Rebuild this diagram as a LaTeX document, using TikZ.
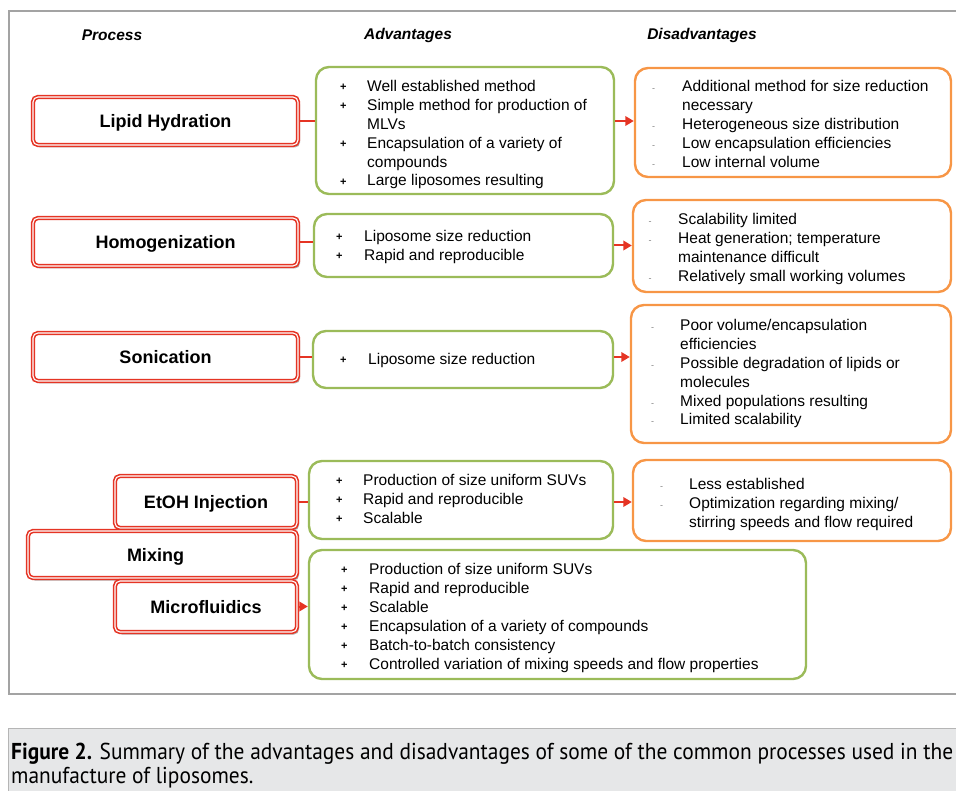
\documentclass[tikz,border=0pt]{standalone}
\usepackage{fontspec}
\usepackage{graphicx}
\setmainfont{Liberation Sans}
\newfontfamily\capfont{PT Sans}
\usetikzlibrary{shadows,arrows.meta}
\definecolor{procred}{HTML}{E53424}
\definecolor{advgreen}{HTML}{9BBB59}
\definecolor{disorange}{HTML}{F79646}
\definecolor{framegray}{HTML}{A3A3A3}
\definecolor{capfill}{HTML}{E6E7E8}
\definecolor{dashgray}{HTML}{7F7F7F}
\newlength\bw
\newcommand\pb{\makebox[\bw][l]{\raisebox{0.8pt}{\fontsize{11}{11}\selectfont\bfseries +}}}
\newcommand\mb{\makebox[\bw][l]{\fontsize{9}{9}\selectfont\color{dashgray}-}}
\newcommand\nb{\hspace*{\bw}}
\newcommand\boxnode[7]{\node[#2, minimum width={(#5-#3)*1pt}, minimum height={(#6-#4)*1pt}] (#1) at ({(#3+#5)/2},{(#4+#6)/2}) {#7};}
\tikzset{
  proc/.style={draw=procred, line width=1.6pt, double=white, double distance=1.1pt,
    rounded corners=5pt, fill=white,
    drop shadow={shadow xshift=2pt, shadow yshift=-2.5pt, opacity=0.5, fill=black!60},
    font=\fontsize{18}{20}\selectfont\bfseries, inner sep=0pt,
    text height=13pt, text depth=0pt},
  adv/.style={draw=advgreen, line width=2.4pt, rounded corners=13pt, inner sep=0pt},
  dis/.style={draw=disorange, line width=2.4pt, rounded corners=13pt, inner sep=0pt},
  lst/.style={anchor=base west, inner sep=0pt, font=\fontsize{15.5}{18.9}\selectfont},
  conn/.style={draw=procred, line width=2pt},
  arr/.style={conn, -{Triangle[length=8.5pt,width=9.5pt]}},
  hdr/.style={font=\fontsize{15.5}{18}\selectfont\bfseries\itshape, inner sep=0pt}
}
\begin{document}
\begin{tikzpicture}[x=1pt,y=-1pt]
\useasboundingbox (0,0) rectangle (956,791);
% frame and caption panel
\draw[framegray, line width=1.2pt] (9,11) rectangle (975,694);
\draw[draw=framegray!80, line width=1pt, fill=capfill] (8,728) rectangle (975,800);
\node[anchor=base west, inner sep=0pt, font=\capfont\fontsize{23}{24}\selectfont] (cap) at (11,759)
  {\resizebox{942pt}{\height}{\begin{tabular}[t]{@{}l@{}}\textbf{Figure 2.} Summary of the advantages and disadvantages of some of the common processes used in the\\ manufacture of liposomes.\end{tabular}}};
% headers
\node[hdr] (hproc) at (112,35) {Process};
\node[hdr] (hadv) at (408,35) {Advantages};
\node[hdr] (hdis) at (702,35) {Disadvantages};
% process boxes
\boxnode{lip}{proc}{33}{97}{298}{145}{Lipid Hydration}
\boxnode{hom}{proc}{33}{218}{298}{266}{Homogenization}
\boxnode{son}{proc}{33}{333}{298}{381}{Sonication}
\boxnode{eto}{proc}{115}{476}{297}{528}{EtOH Injection}
\boxnode{mix}{proc}{28}{531}{297}{578}{\hspace*{-14pt}Mixing}
\boxnode{mic}{proc}{115}{581}{297}{632}{Microfluidics}
% advantages boxes
\boxnode{a1}{adv}{316}{67}{614}{194}{}
\boxnode{a2}{adv}{314}{214}{613}{277}{}
\boxnode{a3}{adv}{313}{331}{613}{388}{}
\boxnode{a4}{adv}{309}{461}{613}{539}{}
\boxnode{a5}{adv}{309}{550}{806}{679}{}
% disadvantages boxes
\boxnode{d1}{dis}{635}{68}{951}{177}{}
\boxnode{d2}{dis}{633}{200}{951}{292}{}
\boxnode{d3}{dis}{631}{305}{951}{443}{}
\boxnode{d4}{dis}{633}{460}{951}{541}{}
% connectors
\draw[conn] (lip.east) -- (lip.east -| a1.west);
\draw[arr] (a1.east |- lip.east) -- (d1.west |- lip.east);
\draw[conn] (hom.east) -- (hom.east -| a2.west);
\draw[arr] (a2.east) -- (a2.east -| d2.west);
\draw[conn] (son.east) -- (son.east -| a3.west);
\draw[arr] (a3.east |- son.east) -- (d3.west |- son.east);
\draw[conn] (eto.east) -- (eto.east -| a4.west);
\draw[arr] (a4.east |- eto.east) -- (d4.west |- eto.east);
\draw[arr] (mic.east) -- (mic.east -| a5.west);
% advantage lists
\node[lst] (a1t) at (340,91.5) {\setlength\bw{27pt}\begin{tabular}[t]{@{}l@{}}
\pb Well established method\\
\pb Simple method for production of\\
\nb MLVs\\
\pb Encapsulation of a variety of\\
\nb compounds\\
\pb Large liposomes resulting\end{tabular}};
\node[lst] (a2t) at (336,241.5) {\setlength\bw{28pt}\begin{tabular}[t]{@{}l@{}}
\pb Liposome size reduction\\
\pb Rapid and reproducible\end{tabular}};
\node[lst] (a3t) at (340,364.5) {\setlength\bw{28pt}\begin{tabular}[t]{@{}l@{}}
\pb Liposome size reduction\end{tabular}};
\node[lst] (a4t) at (336,485.5) {\setlength\bw{27pt}\begin{tabular}[t]{@{}l@{}}
\pb Production of size uniform SUVs\\
\pb Rapid and reproducible\\
\pb Scalable\end{tabular}};
\node[lst] (a5t) at (341,574.5) {\setlength\bw{28pt}\begin{tabular}[t]{@{}l@{}}
\pb Production of size uniform SUVs\\
\pb Rapid and reproducible\\
\pb Scalable\\
\pb Encapsulation of a variety of compounds\\
\pb Batch-to-batch consistency\\
\pb Controlled variation of mixing speeds and flow properties\end{tabular}};
% disadvantage lists
\node[lst] (d1t) at (652,91.5) {\setlength\bw{30pt}\begin{tabular}[t]{@{}l@{}}
\mb Additional method for size reduction\\
\nb necessary\\
\mb Heterogeneous size distribution\\
\mb Low encapsulation efficiencies\\
\mb Low internal volume\end{tabular}};
\node[lst] (d2t) at (648.5,224.5) {\setlength\bw{29.5pt}\begin{tabular}[t]{@{}l@{}}
\mb Scalability limited\\
\mb Heat generation; temperature\\
\nb maintenance difficult\\
\mb Relatively small working volumes\end{tabular}};
\node[lst] (d3t) at (651,330.5) {\setlength\bw{29pt}\begin{tabular}[t]{@{}l@{}}
\mb Poor volume/encapsulation\\
\nb efficiencies\\
\mb Possible degradation of lipids or\\
\nb molecules\\
\mb Mixed populations resulting\\
\mb Limited scalability\end{tabular}};
\node[lst] (d4t) at (660,489.5) {\setlength\bw{29pt}\begin{tabular}[t]{@{}l@{}}
\mb Less established\\
\mb Optimization regarding mixing/\\
\nb stirring speeds and flow required\end{tabular}};
\end{tikzpicture}
\end{document}
